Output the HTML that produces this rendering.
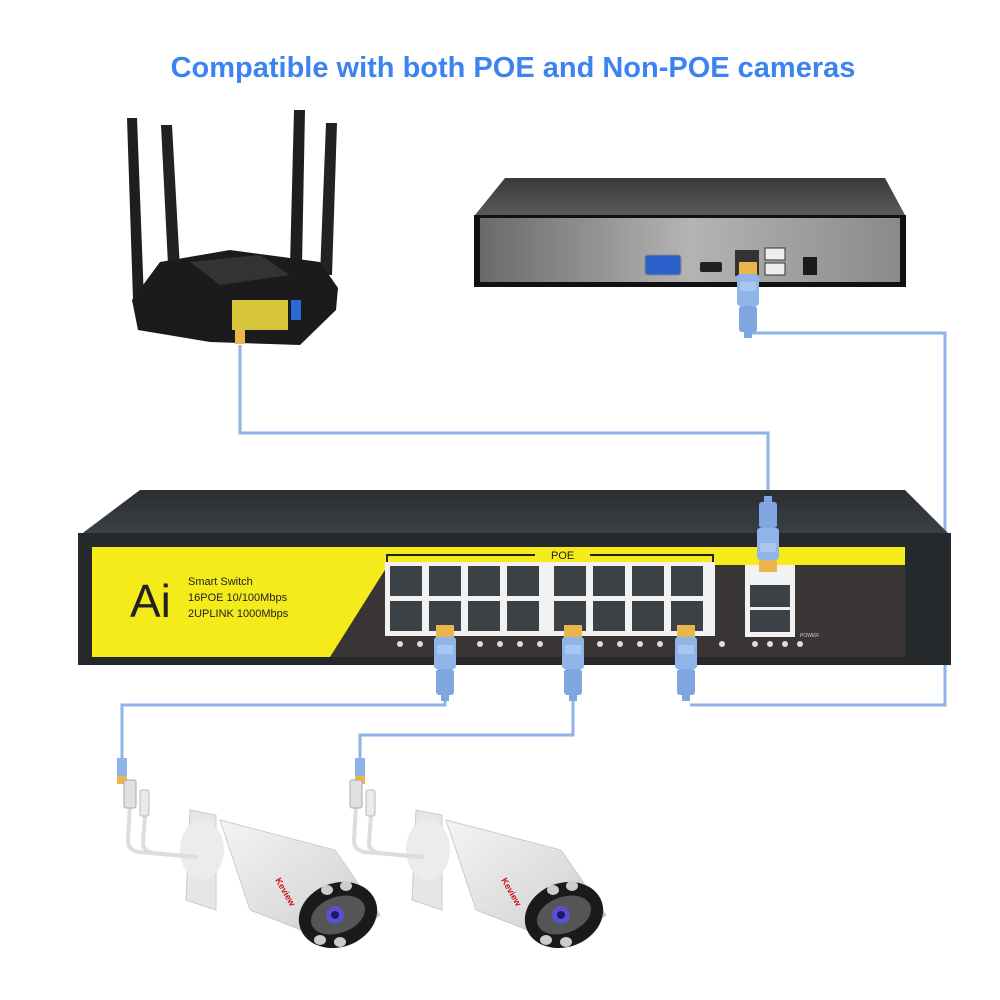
<!DOCTYPE html>
<html><head><meta charset="utf-8"><style>
html,body{margin:0;padding:0;background:#fff;width:1000px;height:1000px;overflow:hidden}
svg{display:block}
</style></head><body>
<svg width="1000" height="1000" viewBox="0 0 1000 1000" xmlns="http://www.w3.org/2000/svg">
<defs>
<linearGradient id="nvrf" x1="0" x2="1"><stop offset="0" stop-color="#6a6a6a"/><stop offset="0.5" stop-color="#b4b4b4"/><stop offset="1" stop-color="#8a8a8a"/></linearGradient>
<linearGradient id="nvrt" x1="0" y1="0" x2="0" y2="1"><stop offset="0" stop-color="#3a3a3a"/><stop offset="1" stop-color="#5a5a5a"/></linearGradient>
<linearGradient id="swt" x1="0" y1="0" x2="0" y2="1"><stop offset="0" stop-color="#2a2e33"/><stop offset="1" stop-color="#3c4147"/></linearGradient>
<linearGradient id="cam" x1="0" y1="0" x2="1" y2="1"><stop offset="0" stop-color="#f4f4f4"/><stop offset="0.6" stop-color="#dcdcdc"/><stop offset="1" stop-color="#b9b9b9"/></linearGradient>
<g id="plug">
<rect x="-9" y="0" width="18" height="14" fill="#e8b64a"/>
<rect x="-11" y="12" width="22" height="32" rx="3" fill="#8fb4e8"/>
<rect x="-8" y="20" width="16" height="9" fill="#a9c6ef"/>
<rect x="-9" y="44" width="18" height="26" rx="3" fill="#7fa6de"/>
<rect x="-4" y="70" width="8" height="6" fill="#7fa6de"/>
</g>
<g id="camera">
<path d="M0,40 l-4,90 l30,10 l0,-95 z" fill="#e6e6e6" stroke="#ccc"/>
<ellipse cx="12" cy="80" rx="22" ry="30" fill="#ececec"/>
<path d="M30,50 L145,80 L190,145 L150,175 L60,140 Z" fill="url(#cam)" stroke="#ccc"/>
<ellipse cx="148" cy="145" rx="40" ry="32" fill="#1a1a1a" transform="rotate(-20 148 145)"/>
<ellipse cx="148" cy="145" rx="28" ry="18" fill="#555" transform="rotate(-20 148 145)"/>
<circle cx="145" cy="145" r="9" fill="#5b4fd0"/><circle cx="145" cy="145" r="4" fill="#1a1a6a"/>
<ellipse cx="137" cy="120" rx="6" ry="5" fill="#ccc"/><ellipse cx="156" cy="116" rx="6" ry="5" fill="#ccc"/>
<ellipse cx="130" cy="170" rx="6" ry="5" fill="#ccc"/><ellipse cx="150" cy="172" rx="6" ry="5" fill="#ccc"/>
<text x="85" y="110" font-family="Liberation Sans,sans-serif" font-size="9" font-weight="bold" fill="#d01010" transform="rotate(60 85 110)">Keview</text>
<path d="M-60,35 l-2,35 q0,10 10,12 l60,5" fill="none" stroke="#ddd" stroke-width="4"/>
<path d="M-45,45 l-2,28 q0,8 10,10 l40,4" fill="none" stroke="#ddd" stroke-width="4"/>
<rect x="-66" y="10" width="12" height="28" rx="2" fill="#e0e0e0" stroke="#aaa"/>
<rect x="-50" y="20" width="9" height="26" rx="2" fill="#eaeaea" stroke="#bbb"/>
</g>
</defs>

<text x="513" y="77" text-anchor="middle" font-family="Liberation Sans,sans-serif" font-size="29" font-weight="bold" fill="#3d83f0">Compatible with both POE and Non-POE cameras</text>

<!-- cables -->
<g fill="none" stroke="#8fb3e6" stroke-width="3">
<path d="M240,345 V433 H768 V495"/>
<path d="M748,320 V333 H945 V705 H690"/>
<path d="M445,695 V705 H122 V760"/>
<path d="M573,695 V735 H360 V760"/>
</g>

<!-- router -->
<g>
<polygon points="127,118 137,118 144,300 133,300" fill="#1e1e1e"/>
<polygon points="161,125 172,125 182,305 170,305" fill="#222"/>
<polygon points="294,110 305,110 302,265 290,265" fill="#1e1e1e"/>
<polygon points="326,123 337,123 332,275 320,275" fill="#222"/>
<polygon points="132,300 160,262 230,250 320,262 338,288 336,310 300,345 210,342 138,330" fill="#1b1b1b"/>
<polygon points="190,262 260,255 290,275 220,285" fill="#333"/>
<rect x="232" y="300" width="56" height="30" fill="#d8c63a"/>
<rect x="291" y="300" width="10" height="20" fill="#2b6ad0"/>
<rect x="235" y="330" width="10" height="14" fill="#e8b64a"/>
</g>

<!-- NVR -->
<polygon points="475,215 505,178 885,178 905,215" fill="url(#nvrt)"/>
<rect x="474" y="215" width="432" height="72" fill="#111"/>
<rect x="480" y="218" width="420" height="64" fill="url(#nvrf)"/>
<rect x="645" y="255" width="36" height="20" rx="3" fill="#2b5fc9" stroke="#888"/>
<rect x="700" y="262" width="22" height="10" rx="2" fill="#222"/>
<rect x="735" y="250" width="24" height="26" fill="#333"/>
<rect x="765" y="248" width="20" height="12" fill="#eee" stroke="#333"/>
<rect x="765" y="263" width="20" height="12" fill="#eee" stroke="#333"/>
<rect x="803" y="257" width="14" height="18" fill="#1a1a1a"/>
<use href="#plug" x="748" y="262"/>

<!-- switch -->
<polygon points="80,535 140,490 905,490 950,535" fill="url(#swt)"/>
<rect x="78" y="533" width="873" height="132" fill="#26292c"/>
<rect x="92" y="547" width="813" height="110" fill="#3a3535"/>
<polygon points="92,547 905,547 905,565 388,565 330,657 92,657" fill="#f5ea1a"/>
<text x="130" y="617" font-family="Liberation Sans,sans-serif" font-size="46" fill="#222">Ai</text>
<text x="188" y="585" font-family="Liberation Sans,sans-serif" font-size="11" fill="#222">Smart Switch</text>
<text x="188" y="601" font-family="Liberation Sans,sans-serif" font-size="11" fill="#222">16POE 10/100Mbps</text>
<text x="188" y="617" font-family="Liberation Sans,sans-serif" font-size="11" fill="#222">2UPLINK 1000Mbps</text>
<path d="M387,562 V555 H535 M590,555 H713 V562" fill="none" stroke="#222" stroke-width="2"/>
<text x="551" y="559" font-family="Liberation Sans,sans-serif" font-size="11" fill="#222">POE</text>
<rect x="385" y="562" width="330" height="74" fill="#f2f2f2"/>
<g fill="#3c4146">
<rect x="390" y="566" width="32" height="30"/><rect x="429" y="566" width="32" height="30"/><rect x="468" y="566" width="32" height="30"/><rect x="507" y="566" width="32" height="30"/>
<rect x="554" y="566" width="32" height="30"/><rect x="593" y="566" width="32" height="30"/><rect x="632" y="566" width="32" height="30"/><rect x="671" y="566" width="32" height="30"/>
<rect x="390" y="601" width="32" height="30"/><rect x="429" y="601" width="32" height="30"/><rect x="468" y="601" width="32" height="30"/><rect x="507" y="601" width="32" height="30"/>
<rect x="554" y="601" width="32" height="30"/><rect x="593" y="601" width="32" height="30"/><rect x="632" y="601" width="32" height="30"/><rect x="671" y="601" width="32" height="30"/>
</g>
<rect x="745" y="565" width="50" height="72" fill="#f2f2f2"/>
<rect x="750" y="585" width="40" height="22" fill="#3c4146"/><rect x="750" y="610" width="40" height="22" fill="#3c4146"/>
<g fill="#ddd"><circle cx="400" cy="644" r="3"/><circle cx="420" cy="644" r="3"/><circle cx="480" cy="644" r="3"/><circle cx="500" cy="644" r="3"/><circle cx="520" cy="644" r="3"/><circle cx="540" cy="644" r="3"/><circle cx="600" cy="644" r="3"/><circle cx="620" cy="644" r="3"/><circle cx="640" cy="644" r="3"/><circle cx="660" cy="644" r="3"/><circle cx="722" cy="644" r="3"/><circle cx="755" cy="644" r="3"/><circle cx="770" cy="644" r="3"/><circle cx="785" cy="644" r="3"/><circle cx="800" cy="644" r="3"/></g>
<text x="800" y="637" font-family="Liberation Sans,sans-serif" font-size="5" fill="#ccc">POWER</text>
<g transform="translate(768,572) rotate(180)"><use href="#plug"/></g>
<use href="#plug" x="445" y="625"/>
<use href="#plug" x="573" y="625"/>
<use href="#plug" x="686" y="625"/>

<!-- cameras -->
<g transform="translate(122,758)"><rect x="-5" y="0" width="10" height="20" fill="#8fb4e8"/><rect x="-5" y="18" width="10" height="8" fill="#e8b64a"/></g>
<g transform="translate(360,758)"><rect x="-5" y="0" width="10" height="20" fill="#8fb4e8"/><rect x="-5" y="18" width="10" height="8" fill="#e8b64a"/></g>
<use href="#camera" x="190" y="770"/>
<use href="#camera" x="416" y="770"/>
</svg>
</body></html>
